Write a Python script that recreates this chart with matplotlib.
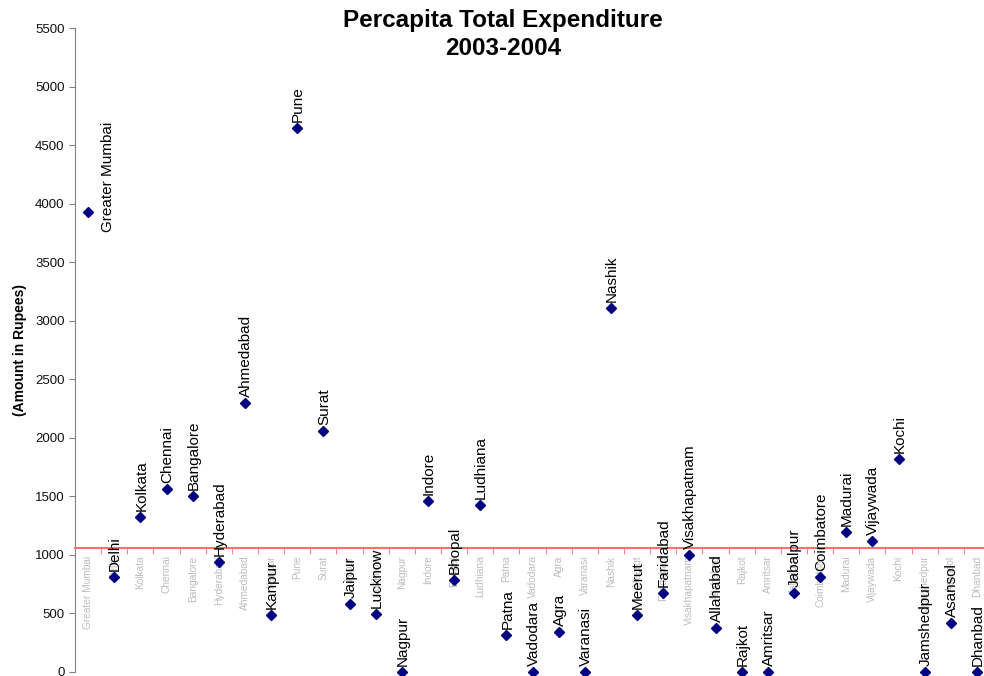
import numpy as np
import matplotlib
matplotlib.use('Agg')
import matplotlib.pyplot as plt

cities = ['Greater Mumbai', 'Delhi', 'Kolkata', 'Chennai', 'Bangalore', 'Hyderabad',
          'Ahmedabad', 'Kanpur', 'Pune', 'Surat', 'Jaipur', 'Lucknow', 'Nagpur',
          'Indore', 'Bhopal', 'Ludhiana', 'Patna', 'Vadodara', 'Agra', 'Varanasi',
          'Nashik', 'Meerut', 'Faridabad', 'Visakhapatnam', 'Allahabad', 'Rajkot',
          'Amritsar', 'Jabalpur', 'Coimbatore', 'Madurai', 'Vijaywada', 'Kochi',
          'Jamshedpur', 'Asansol', 'Dhanbad']
expenditure = [3927, 814, 1321, 1560, 1506, 942,
               2297, 484, 4643, 2058, 581, 495, 0,
               1460, 786, 1429, 316, 0, 342, 0,
               3109, 484, 677, 999, 376, 0,
               0, 677, 814, 1196, 1119, 1819,
               0, 421, 0]
average_value = 1055
y_ticks = np.arange(0, 5501, 500)

plt.rcParams['font.family'] = ['Liberation Sans', 'DejaVu Sans']

fig = plt.figure(figsize=(9.84, 6.76), dpi=100)
ax = fig.add_axes([75 / 984, 4 / 676, (990 - 75) / 984, (672 - 28) / 676])

x = np.arange(len(cities))
ax.plot(x, expenditure, linestyle='none', marker='D', color='#000080',
        markersize=5, clip_on=False, zorder=3)

for i, (name, val) in enumerate(zip(cities, expenditure)):
    offset = (20, -20) if i == 0 else (1, 6)
    ax.annotate(name, (i, val), xytext=offset, textcoords='offset pixels',
                rotation=90, ha='center', va='bottom', fontsize=11,
                color='black', annotation_clip=False, zorder=4)

ax.set_xlim(-0.5, len(cities) - 0.5)
ax.set_ylim(0, 5500)
ax.set_yticks(y_ticks)
ax.tick_params(axis='y', labelsize=9.5, length=4, color='#808080', labelcolor='#111111')

# category axis crosses at the average value
ax.spines['bottom'].set_position(('data', average_value))
ax.spines['bottom'].set_color('#ff6f6f')
ax.spines['bottom'].set_linewidth(1.5)
ax.spines['left'].set_color('#808080')
ax.spines['top'].set_visible(False)
ax.spines['right'].set_visible(False)

ax.set_xticks(x)
ax.set_xticklabels(cities, rotation=90, fontsize=7.3, color='#bdbdbd')
ax.tick_params(axis='x', which='major', length=0, pad=5)
ax.set_xticks(x[:-1] + 0.5, minor=True)
ax.tick_params(axis='x', which='minor', length=4, color='#ff6f6f', direction='out')

ax.set_ylabel('(Amount in Rupees)', fontsize=10, fontweight='bold')
ax.yaxis.set_label_coords(-0.052, 0.5)

fig.text(503 / 984, 1 - 9 / 676, 'Percapita Total Expenditure\n2003-2004',
         ha='center', va='top', fontsize=17.5, fontweight='bold', linespacing=1.28)

fig.savefig('out.png', dpi=100)
